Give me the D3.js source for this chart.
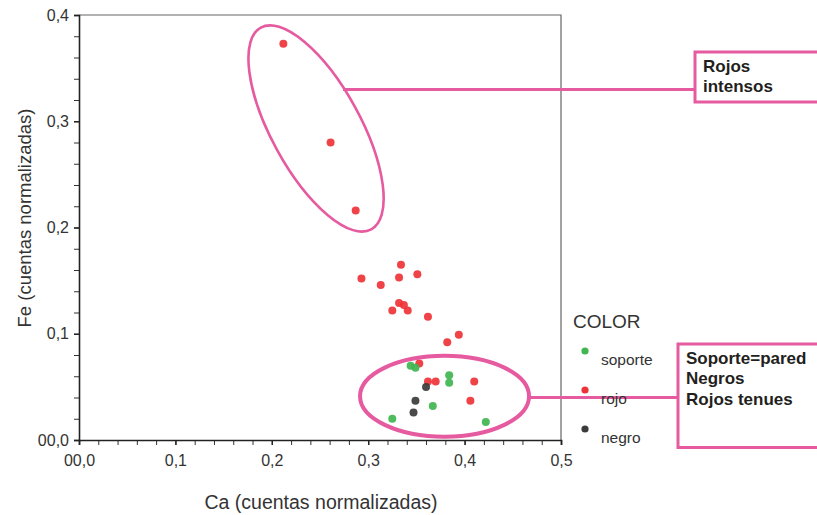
<!DOCTYPE html>
<html>
<head>
<meta charset="utf-8">
<script src="https://cdn.jsdelivr.net/npm/d3@7"></script>
<style>
  body { margin: 0; background: #fff; }
  svg { display: block; font-family: "Liberation Sans", Arial, sans-serif; }
</style>
</head>
<body>
<div id="chart"></div>
<script>
const width = 817;
const height = 515;
const margin = { top: 15, right: 256, bottom: 75, left: 79 };

// Ca / Fe values per color group
const rojoCa = [0.212, 0.261, 0.287, 0.334, 0.293, 0.332, 0.351, 0.313, 0.332, 0.337,
  0.325, 0.341, 0.362, 0.394, 0.382, 0.353, 0.362, 0.370, 0.410, 0.406];
const rojoFe = [0.373, 0.280, 0.216, 0.165, 0.152, 0.153, 0.156, 0.146, 0.129, 0.127,
  0.122, 0.122, 0.116, 0.099, 0.092, 0.072, 0.055, 0.055, 0.055, 0.037];
const soporteCa = [0.344, 0.349, 0.384, 0.384, 0.367, 0.325, 0.422];
const soporteFe = [0.070, 0.068, 0.061, 0.054, 0.032, 0.020, 0.017];
const negroCa = [0.360, 0.349, 0.347];
const negroFe = [0.050, 0.037, 0.026];

const groups = ["soporte", "rojo", "negro"];
const groupColors = ["#3fb650", "#ee3338", "#3b3b3b"];

const xTicks = [0, 0.1, 0.2, 0.3, 0.4, 0.5];
const xTickLabels = ["00,0", "0,1", "0,2", "0,3", "0,4", "0,5"];
const yTicks = [0, 0.1, 0.2, 0.3, 0.4];
const yTickLabels = ["00,0", "0,1", "0,2", "0,3", "0,4"];

const notes = [["Rojos", "intensos"], ["Soporte=pared", "Negros", "Rojos tenues"]];

const points = [];
rojoCa.forEach((d, i) => points.push({ ca: d, fe: rojoFe[i], g: "rojo" }));
soporteCa.forEach((d, i) => points.push({ ca: d, fe: soporteFe[i], g: "soporte" }));
negroCa.forEach((d, i) => points.push({ ca: d, fe: negroFe[i], g: "negro" }));

const x = d3.scaleLinear().domain([0, 0.5]).range([margin.left, width - margin.right]);
const y = d3.scaleLinear().domain([0, 0.4]).range([height - margin.bottom, margin.top]);
const color = d3.scaleOrdinal().domain(groups).range(groupColors);

const svg = d3.select("#chart").append("svg")
  .attr("width", width)
  .attr("height", height);

const pink = "#e65aa0";

// frame (top and right)
svg.append("path")
  .attr("d", `M${x(0)},${y(0.4)}H${x(0.5)}V${y(0)}`)
  .attr("fill", "none")
  .attr("stroke", "#666")
  .attr("stroke-width", 1.2);

// minor ticks
const minor = d3.range(0, 0.5001, 0.02);
svg.append("g")
  .attr("transform", `translate(0,${y(0)})`)
  .call(d3.axisBottom(x).tickValues(minor).tickSize(5).tickFormat(""))
  .call(g => g.select(".domain").remove())
  .call(g => g.selectAll("line").attr("stroke", "#333"));
svg.append("g")
  .attr("transform", `translate(${x(0)},0)`)
  .call(d3.axisLeft(y).tickValues(d3.range(0, 0.4001, 0.02)).tickSize(5).tickFormat(""))
  .call(g => g.select(".domain").remove())
  .call(g => g.selectAll("line").attr("stroke", "#333"));

// main axes
const xAxis = svg.append("g")
  .attr("transform", `translate(0,${y(0)})`)
  .call(d3.axisBottom(x).tickValues(xTicks).tickSize(5).tickPadding(10)
    .tickFormat((d, i) => xTickLabels[i]));
const yAxis = svg.append("g")
  .attr("transform", `translate(${x(0)},0)`)
  .call(d3.axisLeft(y).tickValues(yTicks).tickSize(5).tickPadding(5)
    .tickFormat((d, i) => yTickLabels[i]));

[xAxis, yAxis].forEach(g => {
  g.select(".domain").attr("stroke", "#222").attr("stroke-width", 1.6);
  g.selectAll(".tick line").attr("stroke", "#222").attr("stroke-width", 1.4);
  g.selectAll(".tick text")
    .attr("font-size", "16px")
    .attr("fill", "#333")
    .attr("font-family", "Liberation Sans, Arial, sans-serif");
});

// axis titles
svg.append("text")
  .attr("transform", `translate(24,${218}) rotate(-90)`)
  .attr("text-anchor", "middle")
  .attr("dominant-baseline", "central")
  .attr("font-size", "18.5px")
  .attr("fill", "#333")
  .text("Fe (cuentas normalizadas)");

svg.append("text")
  .attr("x", 321)
  .attr("y", 509)
  .attr("text-anchor", "middle")
  .attr("font-size", "19.5px")
  .attr("fill", "#333")
  .text("Ca (cuentas normalizadas)");

// points
svg.append("g")
  .selectAll("circle")
  .data(points)
  .join("circle")
  .attr("cx", d => x(d.ca))
  .attr("cy", d => y(d.fe))
  .attr("r", 4)
  .attr("fill", d => color(d.g))
  .attr("fill-opacity", 0.92);

// annotation ellipses
svg.append("ellipse")
  .attr("transform", `translate(${x(0.2459)},${y(0.2932)}) rotate(61.3)`)
  .attr("rx", 115)
  .attr("ry", 44.5)
  .attr("fill", "none")
  .attr("stroke", pink)
  .attr("stroke-width", 2.6);

svg.append("ellipse")
  .attr("cx", x(0.3792))
  .attr("cy", y(0.0412))
  .attr("rx", 84.5)
  .attr("ry", 40.5)
  .attr("fill", "none")
  .attr("stroke", pink)
  .attr("stroke-width", 4);

// connector lines and boxes
const boxes = [
  { lx: 343, ly: 89.5, bx: 695, by: 52, bh: 50, tx: 703, ty: 71.5 },
  { lx: 529, ly: 397.5, bx: 678, by: 344, bh: 103.5, tx: 686, ty: 363.5 }
];
boxes.forEach((b, i) => {
  svg.append("line")
    .attr("x1", b.lx).attr("x2", b.bx)
    .attr("y1", b.ly).attr("y2", b.ly)
    .attr("stroke", pink)
    .attr("stroke-width", 3);
  svg.append("rect")
    .attr("x", b.bx).attr("y", b.by)
    .attr("width", 160).attr("height", b.bh)
    .attr("fill", "#fff")
    .attr("stroke", pink)
    .attr("stroke-width", 3);
  svg.append("text")
    .attr("font-size", "17px")
    .attr("font-weight", "bold")
    .attr("fill", "#231f20")
    .selectAll("tspan")
    .data(notes[i])
    .join("tspan")
    .attr("x", b.tx)
    .attr("y", (d, j) => b.ty + j * 20.5)
    .text(d => d);
});

// legend
svg.append("text")
  .attr("x", 573)
  .attr("y", 327.5)
  .attr("font-size", "19px")
  .attr("fill", "#333")
  .text("COLOR");

const legend = svg.selectAll(".legend")
  .data(groups)
  .join("g")
  .attr("class", "legend");

legend.append("circle")
  .attr("cx", 585)
  .attr("cy", (d, i) => 351 + i * 39)
  .attr("r", 3.6)
  .attr("fill", d => color(d));

legend.append("text")
  .attr("x", 601)
  .attr("y", (d, i) => 365 + i * 38.8)
  .attr("font-size", "15.5px")
  .attr("fill", "#333")
  .text(d => d);
</script>
</body>
</html>
